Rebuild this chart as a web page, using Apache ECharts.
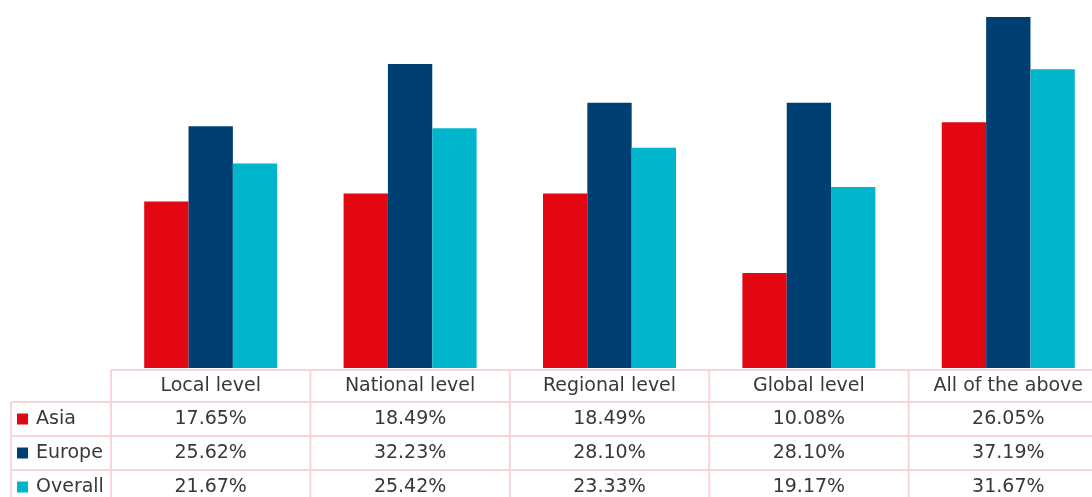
<!DOCTYPE html>
<html><head><meta charset="utf-8">
<script src="https://cdn.jsdelivr.net/npm/echarts@6/dist/echarts.min.js"></script>
<style>html,body{margin:0;padding:0;background:#fff;overflow:hidden}#c{width:1112px;height:497px}</style>
</head><body><div id="c"></div>
<script>
const categories = ['Local level', 'National level', 'Regional level', 'Global level', 'All of the above'];
const seriesNames = ['Asia', 'Europe', 'Overall'];
const asia = [17.65, 18.49, 18.49, 10.08, 26.05];
const europe = [25.62, 32.23, 28.10, 28.10, 37.19];
const overall = [21.67, 25.42, 23.33, 19.17, 31.67];
const seriesData = [asia, europe, overall];
const colors = ['#E30613', '#003F72', '#00B5CC'];

const chart = echarts.init(document.getElementById('c'), null, {renderer: 'canvas'});
const FONT = '"DejaVu Sans"';
const TXT = '#383838';
const LINE = '#FAD4D7';

chart.setOption({
  animation: false,
  grid: {left: 111, top: 0, width: 997, height: 368},
  xAxis: {type: 'category', data: categories, axisLine: {show: false}, axisTick: {show: false}, axisLabel: {show: false}},
  yAxis: {type: 'value', min: 0, max: 39, show: false, splitLine: {show: false}},
  series: seriesNames.map((n, i) => ({
    name: n, type: 'bar', data: seriesData[i], barGap: 0, barCategoryGap: '33.3%',
    itemStyle: {color: colors[i]}
  }))
});

function buildTable() {
  const p0 = chart.convertToPixel({gridIndex: 0}, [0, 0]);
  const p1 = chart.convertToPixel({gridIndex: 0}, [1, 0]);
  const band = p1[0] - p0[0];
  const baseY = p0[1];
  const left = p0[0] - band / 2;
  const right = left + band * categories.length;
  const rowTops = [baseY + 2, baseY + 34, baseY + 68, baseY + 102, baseY + 136];
  const g = [];
  const ls = {stroke: LINE, lineWidth: 2};
  g.push({type: 'line', shape: {x1: left, y1: rowTops[0], x2: right, y2: rowTops[0]}, style: ls, silent: true});
  for (let r = 1; r < rowTops.length; r++) {
    g.push({type: 'line', shape: {x1: 11, y1: rowTops[r], x2: right, y2: rowTops[r]}, style: ls, silent: true});
  }
  for (let c = 0; c <= categories.length; c++) {
    const x = left + band * c;
    g.push({type: 'line', shape: {x1: x, y1: rowTops[0], x2: x, y2: rowTops[4]}, style: ls, silent: true});
  }
  g.push({type: 'line', shape: {x1: 11, y1: rowTops[1], x2: 11, y2: rowTops[4]}, style: ls, silent: true});
  categories.forEach((cat, c) => {
    const px = chart.convertToPixel({gridIndex: 0}, [c, 0])[0];
    g.push({type: 'text', x: px, y: (rowTops[0] + rowTops[1]) / 2, silent: true,
      style: {text: cat, fill: TXT, font: '19px ' + FONT, align: 'center', verticalAlign: 'middle'}});
  });
  seriesNames.forEach((n, s) => {
    const cy = (rowTops[s + 1] + rowTops[s + 2]) / 2;
    g.push({type: 'rect', shape: {x: 17, y: cy - 5.5, width: 11, height: 11}, style: {fill: colors[s]}, silent: true});
    g.push({type: 'text', x: 36, y: cy, silent: true,
      style: {text: n, fill: TXT, font: '19px ' + FONT, align: 'left', verticalAlign: 'middle'}});
    seriesData[s].forEach((v, c) => {
      const px = chart.convertToPixel({gridIndex: 0}, [c, 0])[0];
      g.push({type: 'text', x: px, y: cy, silent: true,
        style: {text: v.toFixed(2) + '%', fill: TXT, font: '19px ' + FONT, align: 'center', verticalAlign: 'middle'}});
    });
  });
  chart.setOption({graphic: g});
}
buildTable();
</script>
</body></html>
